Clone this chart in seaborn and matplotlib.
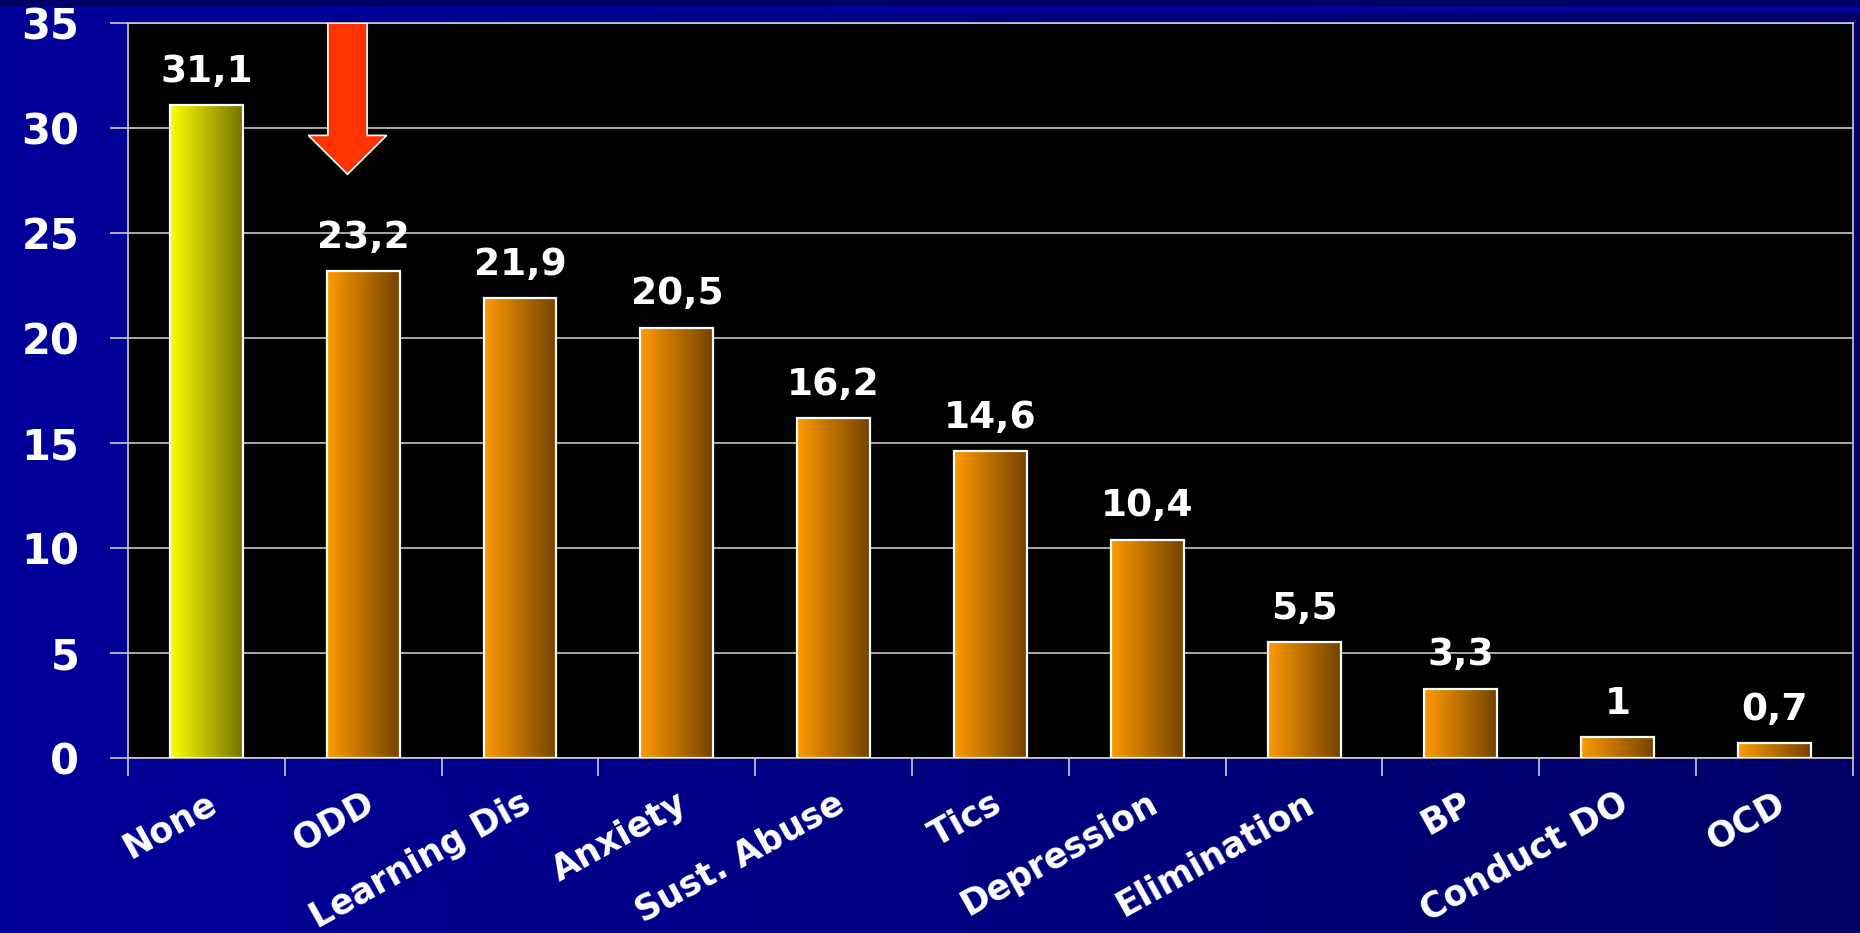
import numpy as np
import pandas as pd
import matplotlib
matplotlib.use("Agg")
import matplotlib.pyplot as plt
from matplotlib.colors import to_rgb
import seaborn as sns

# data
categories = ["None", "ODD", "Learning Dis", "Anxiety", "Sust. Abuse", "Tics",
              "Depression", "Elimination", "BP", "Conduct DO", "OCD"]
values = [31.1, 23.2, 21.9, 20.5, 16.2, 14.6, 10.4, 5.5, 3.3, 1.0, 0.7]
value_labels = [f"{v:g}".replace(".", ",") for v in values]
y_ticks = [0, 5, 10, 15, 20, 25, 30, 35]

# highlight arrow over ODD (data units)
arrow_x = 0.9
arrow_top = 35
arrow_tip = 27.8
arrow_head_len = 1.85

# style
first_grad = ("#FFFF00", "#747400")
other_grad = ("#FF9A00", "#744300")
FONT = ["DejaVu Sans"]

sns.set_style("dark")
plt.rcParams["font.family"] = FONT
plt.rcParams["font.weight"] = "bold"


def hgrad(c0, c1, n=256):
    a, b = np.array(to_rgb(c0)), np.array(to_rgb(c1))
    t = np.linspace(0, 1, n)[:, None]
    return (a + (b - a) * t)[None, :, :]


fig = plt.figure(figsize=(18.6, 9.33), dpi=100)

# slide-like background
bg = fig.add_axes([0, 0, 1, 1], zorder=-5)
bg.imshow(hgrad("#00009A", "#000068"), extent=[0, 1860, 933, 0], aspect="auto")
bg.add_patch(plt.Rectangle((0, 0), 1860, 7, color="#000066"))
bg.add_patch(plt.Rectangle((0, 7), 1860, 4, color="#0000A4"))
bg.imshow(np.concatenate([hgrad("#FFFFCC", "#3377FF", 80), hgrad("#3377FF", "#0000A4", 120)], axis=1),
          extent=[0, 260, 10.5, 7.5], aspect="auto")
bg.set_xlim(0, 1860)
bg.set_ylim(933, 0)
bg.axis("off")

ax = fig.add_axes([0.0688, 0.1876, 0.9274, 0.7877])
ax.set_facecolor("black")

df = pd.DataFrame({"cat": categories, "val": values})
sns.barplot(data=df, x="cat", y="val", ax=ax, width=0.465, color="#FF9A00",
            edgecolor="white", linewidth=1.6, saturation=1)

# horizontal gradient fill clipped to each bar
for i, p in enumerate(ax.patches):
    c0, c1 = first_grad if i == 0 else other_grad
    x0, y0, w, h = p.get_x(), p.get_y(), p.get_width(), p.get_height()
    im = ax.imshow(hgrad(c0, c1), extent=[x0, x0 + w, y0, y0 + h],
                   aspect="auto", zorder=2.5)
    im.set_clip_path(p)
    p.set_facecolor("none")
    p.set_zorder(3)

ax.bar_label(ax.containers[0], labels=value_labels, padding=11,
             color="white", fontsize=27, fontweight="bold")

ax.arrow(arrow_x, arrow_top, 0, arrow_tip - arrow_top, width=0.25,
         head_width=0.5, head_length=arrow_head_len, length_includes_head=True,
         facecolor="#FF3300", edgecolor="white", linewidth=1.2, zorder=4)

ax.set_xlim(-0.5, len(categories) - 0.5)
ax.set_ylim(0, 35)
ax.set_yticks(y_ticks)
ax.set_xticks(range(len(categories)))
ax.set_xticks(np.arange(-0.5, len(categories), 1), minor=True)
ax.set_xticklabels(categories, rotation=29, ha="right", va="top",
                   rotation_mode="anchor")
ax.set_xlabel("")
ax.set_ylabel("")

ax.grid(axis="y", color="#D8D8D8", linewidth=1.1)
ax.grid(axis="x", visible=False)
ax.set_axisbelow(True)
ax.tick_params(axis="y", colors="white", labelsize=30, length=13, width=1.2,
               color="#CCCCCC", pad=22, left=True)
ax.tick_params(axis="x", which="major", colors="white", labelsize=25, length=0, pad=20)
ax.tick_params(axis="x", which="minor", length=13, width=1.2, color="#CCCCCC",
               bottom=True)
for lab in ax.get_yticklabels() + ax.get_xticklabels():
    lab.set_fontweight("bold")
for s in ax.spines.values():
    s.set_visible(True)
    s.set_color("#CCCCCC")
    s.set_linewidth(1.2)

fig.savefig("out.png", dpi=100, facecolor="#00008A")
